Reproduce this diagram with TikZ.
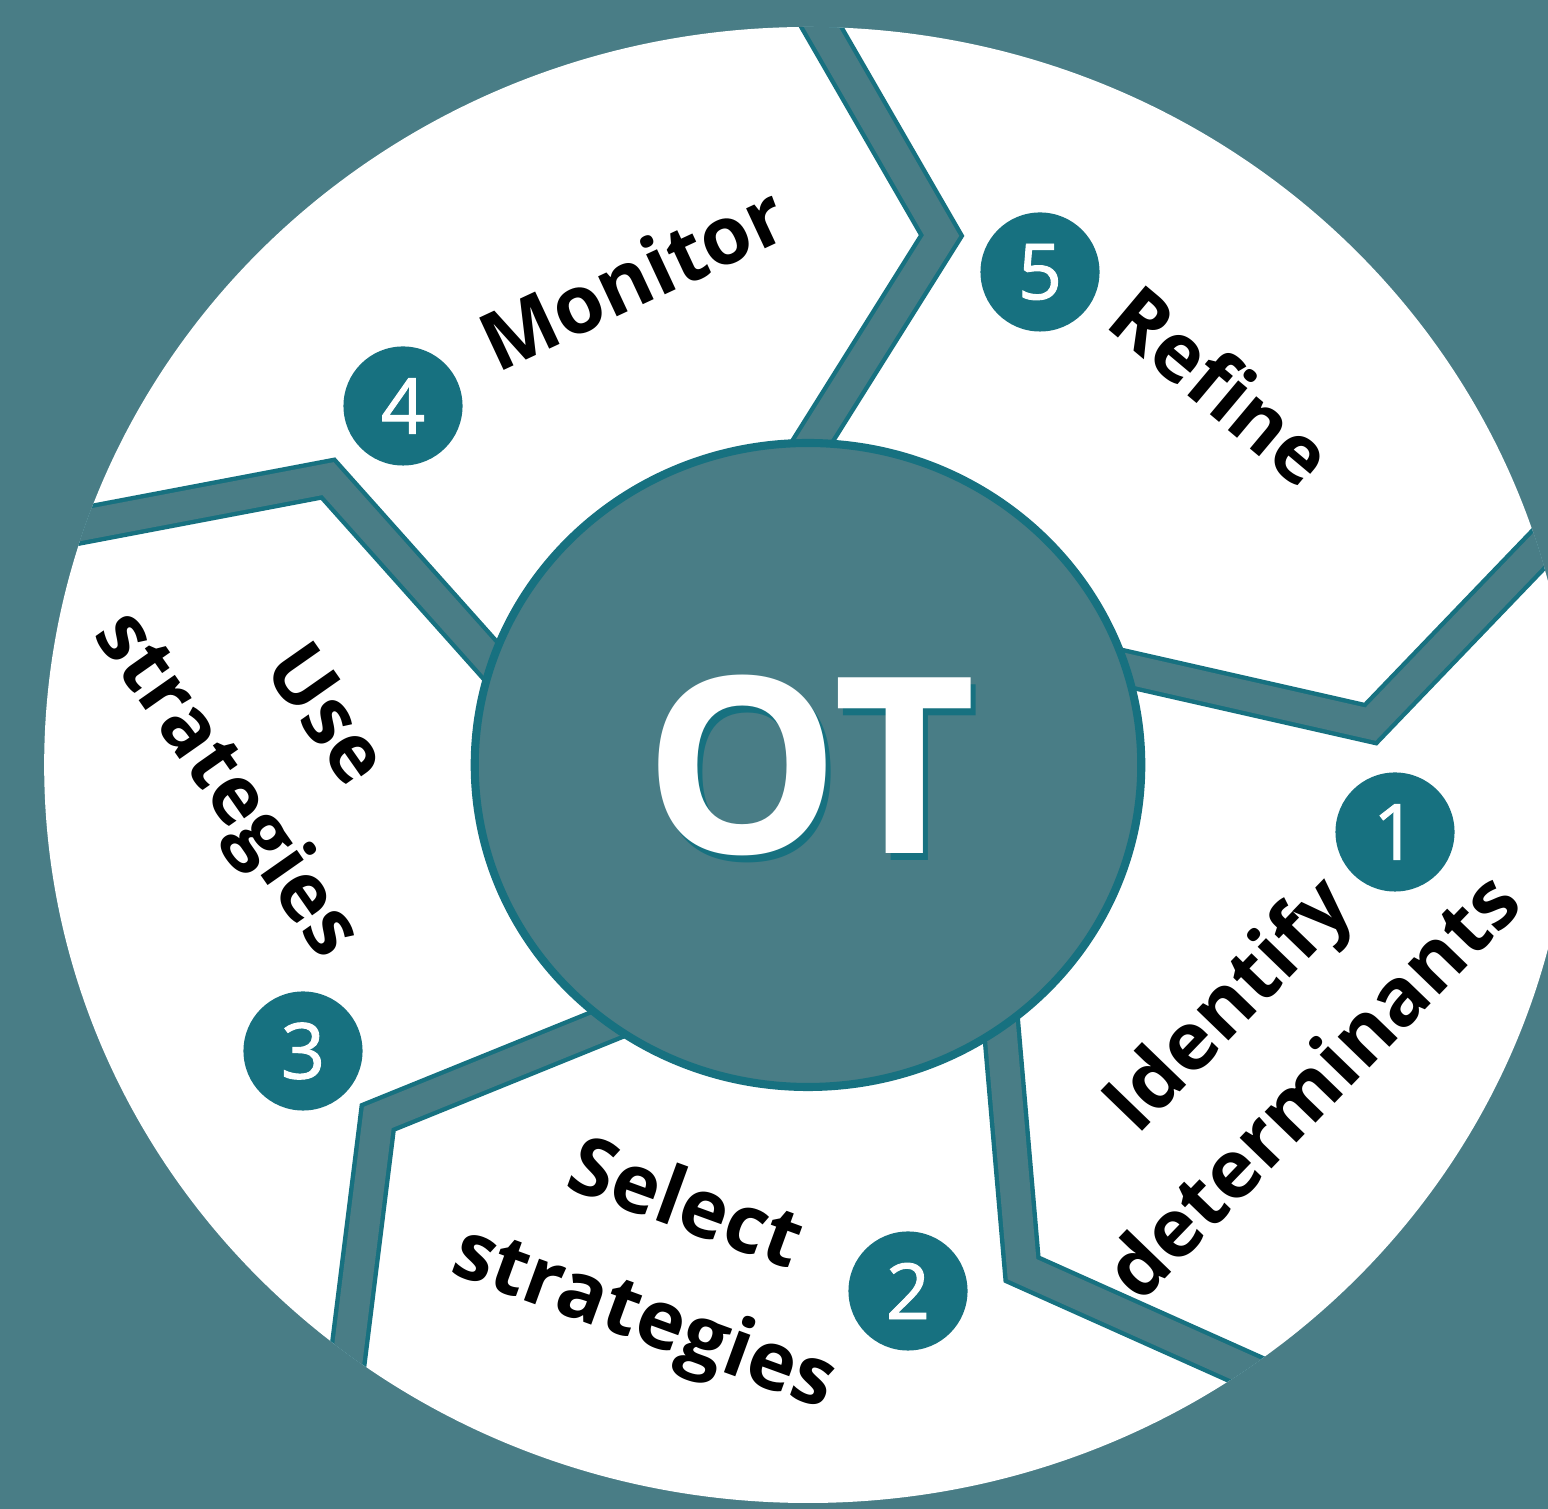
\documentclass[tikz,border=0pt]{standalone}
\usepackage{fontspec}
\setmainfont{Open Sans}
\newfontfamily\numfont[FakeBold=1.2]{Open Sans}
\usetikzlibrary{calc}
\definecolor{otbg}{HTML}{497D86}
\definecolor{otdark}{HTML}{177180}

\begin{document}
\begin{tikzpicture}[
    x=0.01cm, y=0.01cm,
    ring/.style={fill=white},
    gapshade/.style={otdark, line width=11.1pt, line join=miter},
    gapfill/.style={otbg, line width=8.6pt, line join=miter},
    badge/.style={circle, fill=otdark, text=white, minimum size=1.19cm, inner sep=0pt,
                  font=\numfont\fontsize{22}{22}\selectfont},
    steplabel/.style={font=\bfseries\fontsize{23}{34}\selectfont, align=center, text=black, inner sep=0pt},
    centre/.style={font=\bfseries\fontsize{70}{70}\selectfont, inner sep=0pt}
  ]
  % Background
  \fill[otbg] (0,0) rectangle (1548,1509);
  \useasboundingbox (0,0) rectangle (1548,1509);

  % Ring: white annulus cut by five chevron gaps
  \begin{scope}[shift={(808,744)}, xscale=1.035]
    \fill[ring] (0,0) circle (738);
    \begin{scope}
      \clip (0,0) circle (738);
      \foreach \a in {89,17,-55,-127,161} {
        \coordinate (out) at (\a:738);
        \coordinate (tip) at (\a-12.7:545);
        \coordinate (in) at (\a:326);
        \draw[gapshade] ($(tip)!1.3!(out)$) -- (tip) -- ($(tip)!1.3!(in)$);
        \draw[gapfill] ($(tip)!1.3!(out)$) -- (tip) -- ($(tip)!1.3!(in)$);
      }
    \end{scope}
    % Hub
    \filldraw[fill=otbg, draw=otdark, line width=2.3pt] (0,0) circle (322);
  \end{scope}

  % Centre text
  \node[centre, text=otdark] (otshadow) at (815,737) {OT};
  \node[centre, text=white] (ot) at (810,744) {OT};

  % Step labels
  \node[steplabel, rotate=46] (identify) at (1268,466) {Identify\\determinants};
  \node[steplabel, rotate=-20] (select) at (664,244) {Select\\strategies};
  \node[steplabel, rotate=-55] (use) at (272,756) {Use\\strategies};
  \node[steplabel, rotate=25] (monitor) at (632,1232) {Monitor};
  \node[steplabel, rotate=-40] (refine) at (1222,1124) {Refine};

  % Step numbers
  \node[badge] (num1) at (1395,677) {1};
  \node[badge] (num2) at (908,218) {2};
  \node[badge] (num3) at (303,458) {3};
  \node[badge] (num4) at (403,1103) {4};
  \node[badge] (num5) at (1040,1237) {5};
\end{tikzpicture}
\end{document}
